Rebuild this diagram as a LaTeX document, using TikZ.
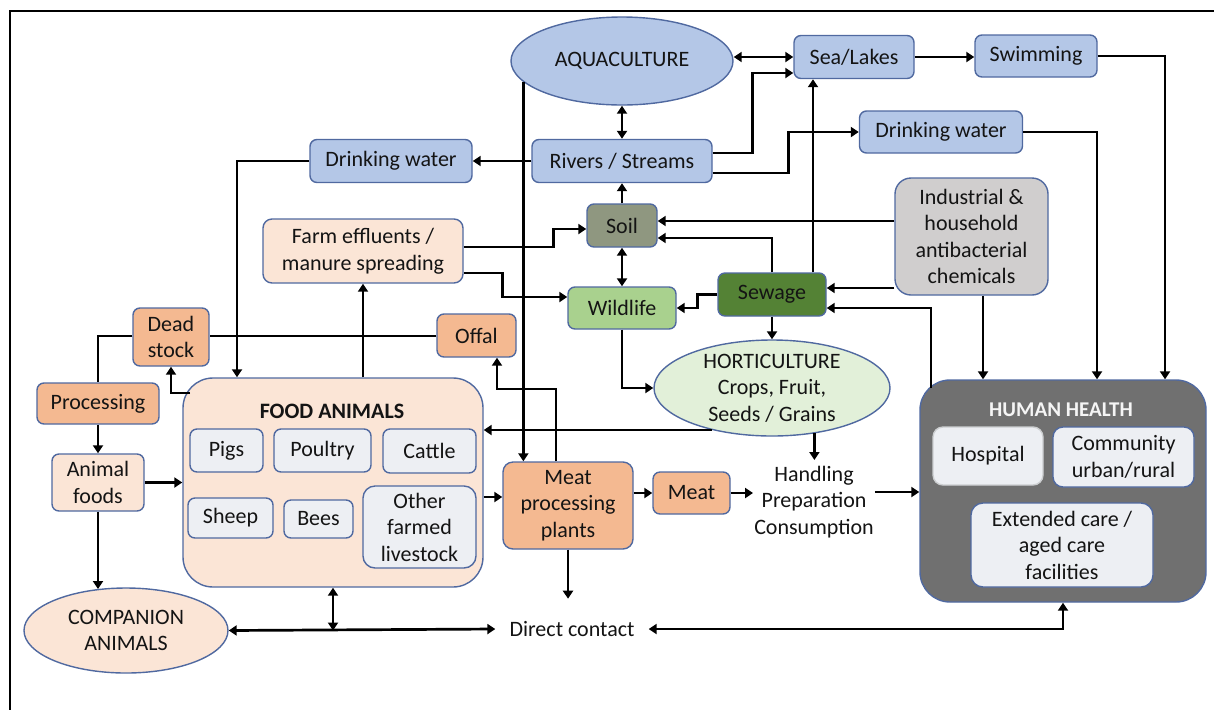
\documentclass[tikz,border=0pt]{standalone}
\usepackage{fontspec}
\setmainfont{Carlito}
\usetikzlibrary{arrows.meta,shapes.geometric}

\definecolor{edgeblue}{RGB}{80,105,160}
\definecolor{waterfill}{RGB}{180,199,231}
\definecolor{peach}{RGB}{251,229,214}
\definecolor{salmon}{RGB}{244,185,145}
\definecolor{soilfill}{RGB}{143,151,128}
\definecolor{wildfill}{RGB}{169,209,142}
\definecolor{sewfill}{RGB}{84,130,53}
\definecolor{hortfill}{RGB}{226,240,217}
\definecolor{indfill}{RGB}{208,206,206}
\definecolor{healthfill}{RGB}{112,112,112}
\definecolor{innerfill}{RGB}{237,239,243}
\definecolor{ink}{RGB}{20,20,20}

\newcommand{\labelsize}{\fontsize{22}{26.5}\selectfont}

\tikzset{
  base/.style={draw=edgeblue, line width=1.4pt, align=center, inner sep=1pt,
               text=ink, font=\labelsize},
  box/.style={base, rectangle, rounded corners=7pt},
  bigbox/.style={base, rectangle, rounded corners=30pt},
  oval/.style={base, ellipse, inner sep=0pt},
  txt/.style={align=center, inner sep=1pt, text=ink, font=\labelsize},
  water/.style={box, fill=waterfill},
  sized/.style 2 args={minimum width=#1, minimum height=#2},
  tip/.tip={Triangle[length=8pt,width=10pt]},
  conn/.style={line width=2.7pt, draw=black},
  arr/.style={conn, -tip},
  darr/.style={conn, tip-tip},
}

\begin{document}
\begin{tikzpicture}[x=1pt,y=-1pt]
\useasboundingbox (0,0) rectangle (1214,710);

% frame
\draw[line width=2.6pt] (1214,11) -- (10,11) -- (10,710);

% water compartment
\node[oval, fill=waterfill, sized={222pt}{88pt}] (aqua) at (622,61) {};
\node[txt] (aquat) at (aqua) {AQUACULTURE};
\node[water, sized={120pt}{43pt}] (sea) at (854,57) {Sea/Lakes};
\node[water, sized={122pt}{42pt}] (swim) at (1036,56) {Swimming};
\node[water, sized={163pt}{42pt}] (dwR) at (941,132) {Drinking water};
\node[water, sized={180pt}{43pt}] (riv) at (622,161) {Rivers / Streams};
\node[water, sized={162pt}{43pt}] (dwL) at (391,161) {Drinking water};

% environment
\node[box, fill=indfill, rounded corners=16pt, sized={153pt}{117pt}] (ind) at (971.5,236.5)
  {Industrial \&\\household\\antibacterial\\chemicals};
\node[box, fill=soilfill, sized={70pt}{43pt}] (soil) at (622,225.5) {Soil};
\node[box, fill=peach, rounded corners=9pt, sized={200pt}{64pt}] (farm) at (363,251)
  {Farm effluents /\\manure spreading};
\node[box, fill=wildfill, sized={108pt}{42pt}] (wild) at (622,308) {Wildlife};
\node[box, fill=sewfill, sized={108pt}{43pt}] (sew) at (772,294.5) {Sewage};
\node[oval, fill=hortfill, sized={236pt}{96pt}] (hort) at (772,388) {};
\node[txt] (hortt) at (hort) {HORTICULTURE\\Crops, Fruit,\\Seeds / Grains};

% animal side
\node[box, fill=salmon, sized={79pt}{43pt}] (offal) at (476.5,335.5) {Offal};
\node[box, fill=salmon, sized={76pt}{58pt}] (dead) at (171,337) {Dead\\stock};
\node[box, fill=salmon, sized={122pt}{41pt}] (proc) at (98,403.5) {Processing};
\node[box, fill=peach, sized={92pt}{57pt}] (afood) at (98,482.5) {Animal\\foods};
\node[oval, fill=peach, sized={204pt}{85pt}] (comp) at (126,630.5) {};
\node[txt] (compt) at (comp) {COMPANION\\ANIMALS};

\node[bigbox, fill=peach, sized={300pt}{209pt}] (food) at (333,482.5) {};
\node[txt, font=\labelsize\bfseries] (foodt) at (332,411) {FOOD ANIMALS};
\node[box, fill=innerfill, sized={73pt}{43pt}] (pigs) at (226.5,450.5) {Pigs};
\node[box, fill=innerfill, sized={97pt}{43pt}] (poultry) at (322.5,450.5) {Poultry};
\node[box, fill=innerfill, sized={93pt}{44pt}] (cattle) at (429.5,451) {Cattle};
\node[box, fill=innerfill, sized={85pt}{40pt}] (sheep) at (230.5,518) {Sheep};
\node[box, fill=innerfill, sized={69pt}{38pt}] (bees) at (318.5,519) {Bees};
\node[box, fill=innerfill, rounded corners=12pt, sized={113pt}{82pt}] (other) at (419.5,527)
  {Other\\farmed\\livestock};

\node[box, fill=salmon, rounded corners=10pt, sized={130pt}{87pt}] (mpp) at (568,505.5)
  {Meat\\processing\\plants};
\node[box, fill=salmon, sized={77pt}{42pt}] (meat) at (691.5,493) {Meat};
\node[txt] (hand) at (814,502) {Handling\\Preparation\\Consumption};
\node[txt, inner xsep=14pt] (direct) at (572,629) {Direct contact};

% human health
\node[bigbox, fill=healthfill, sized={286pt}{222pt}] (hh) at (1063,491) {};
\node[txt, text=white!92!gray, font=\fontsize{21}{25}\selectfont\bfseries] (hht) at (1061,410) {HUMAN HEALTH};
\node[box, draw=innerfill!70!gray, fill=innerfill, rounded corners=10pt, sized={110pt}{58pt}] (hosp) at (988,456) {Hospital};
\node[box, fill=innerfill, rounded corners=10pt, sized={141pt}{60pt}] (comm) at (1123.5,457)
  {Community\\urban/rural};
\node[box, fill=innerfill, rounded corners=12pt, sized={182pt}{84pt}] (ext) at (1062,545)
  {Extended care /\\aged care\\facilities};

% water flows
\draw[darr] (aqua.east |- sea.west) -- (sea.west);
\draw[arr] (sea.east) -- (swim.west |- sea.east);
\draw[arr] (swim.east) -| (1165,0 |- hh.north);
\draw[arr] (dwR.east) -| (1097,0 |- hh.north);
\draw[arr] (983,0 |- ind.south) -- (983,0 |- hh.north);
\draw[darr] (aqua.south) -- (riv.north);
\draw[arr] (riv.west) -- (dwL.east);
\draw[arr] (dwL.west) -| (237,0 |- food.north);
\draw[arr] (riv.east |- 0,153) -- ++(40,0) |- (sea.west |- 0,73);
\draw[arr] (riv.east |- 0,173) -- ++(76,0) |- (dwR.west);

% soil, wildlife, sewage
\draw[arr] (soil.north) -- (riv.south);
\draw[darr] (soil.south) -- (wild.north);
\draw[arr] (farm.east |- 0,247) -- ++(90,0) |- (soil.west |- 0,229);
\draw[arr] (farm.east |- 0,273) -- ++(39,0) |- (wild.west |- 0,297);
\draw[arr] (ind.west |- 0,221) -- (soil.east |- 0,221);
\draw[arr] (sew.north) |- (soil.east |- 0,238);
\draw[arr] (813,0 |- sew.north) -- (813,0 |- sea.south);
\draw[arr] (ind.west |- 0,288) -- (sew.east |- 0,288);
\draw[arr] (931,388) |- (sew.east |- 0,308);
\draw[arr] (sew.west) -- ++(-20,0) |- (wild.east |- 0,308);
\draw[arr] (sew.south) -- (hort.north);
\draw[arr] (wild.south) |- (hort.west);
\draw[arr] (hort.215) -- (food.east |- hort.215);
\draw[arr] (hort.-47) -- (hort.-47 |- 0,460);

% food chain
\draw[arr] (aqua.192) -- (aqua.192 |- mpp.north);
\draw[arr] (556,0 |- mpp.north) |- (497,389) -- (497,0 |- offal.south);
\draw[conn] (offal.west |- 0,336) -- (dead.east |- 0,336);
\draw[conn] (dead.west |- 0,336) -| (proc.north);
\draw[arr] (proc.south) -- (afood.north);
\draw[arr] (190,393) -| (dead.south);
\draw[arr] (food.north -| farm.south) -- (farm.south);
\draw[arr] (afood.east) -- (food.west |- afood.east);
\draw[arr] (afood.south) -- (afood.south |- 0,589);
\draw[arr] (food.east |- 0,497) -- (mpp.west |- 0,497);
\draw[arr] (mpp.east |- meat.west) -- (meat.west);
\draw[arr] (meat.east) -- (hand.west |- meat.east);
\draw[arr] (hand.east |- 0,492) -- (hh.west |- 0,492);

% direct contact
\draw[arr] (mpp.south) -- ++(0,49);
\draw[darr] (comp.east) -- (direct.west);
\draw[darr] (food.south) -- (food.south |- comp.east);
\draw[darr] (direct.east) -| (hh.south);
\end{tikzpicture}
\end{document}
